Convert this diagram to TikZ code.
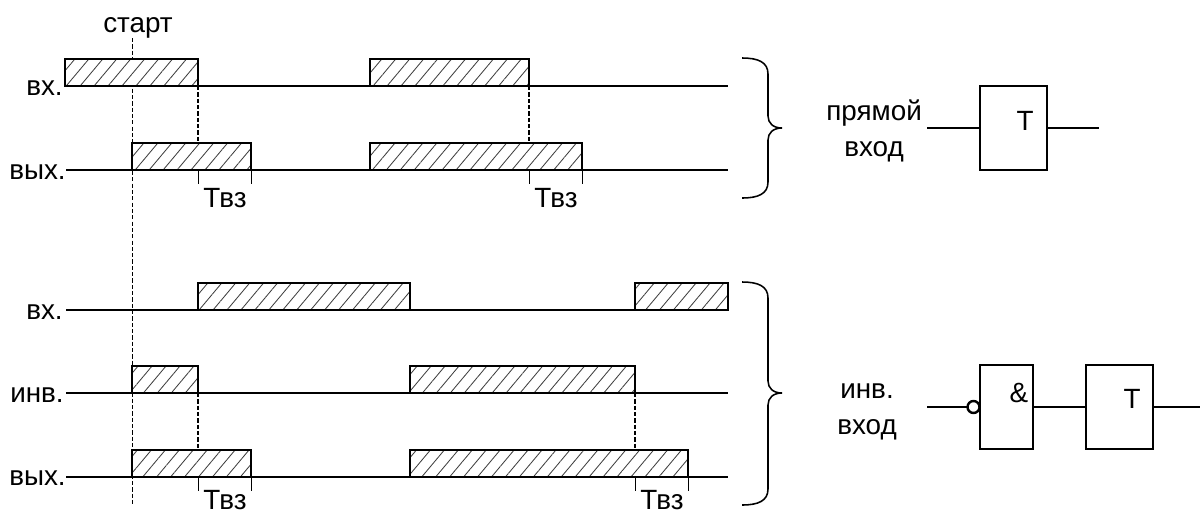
\documentclass[tikz,border=0pt]{standalone}
\usepackage{fontspec}
\setmainfont{Liberation Sans}
\usetikzlibrary{patterns.meta}

\begin{document}
\begin{tikzpicture}[
    x=0.025cm, y=-0.025cm,
    label/.style={inner sep=0pt, anchor=base, font=\fontsize{19.8}{24}\selectfont},
    rowlabel/.style={label, anchor=base east},
    timeline/.style={line width=1.5pt},
    sync/.style={line width=1pt, dash pattern=on 3pt off 1.5pt},
    tick/.style={line width=0.7pt},
    pulse/.style={rectangle, draw, line width=1.5pt, outer sep=0pt, inner sep=0pt, anchor=south west, minimum height=0.675cm, preaction={fill=white}, pattern={Lines[angle=50, distance=7.6pt, line width=0.6pt]}, pattern color=black!75},
    bracket/.style={line width=1.1pt},
    block/.style={rectangle, draw, line width=1.7pt, outer sep=0pt, minimum height=2.1cm},
    wire/.style={line width=1.8pt}
]
\useasboundingbox (0,0) rectangle (1200,514);

% Row labels
\node[rowlabel] (in1) at (63, 95) {вх.};
\node[rowlabel] (out1) at (66, 179) {вых.};
\node[rowlabel] (in2) at (63, 319) {вх.};
\node[rowlabel] (inv) at (64, 402) {инв.};
\node[rowlabel] (out2) at (66, 485) {вых.};

% Time lines
\coordinate (in1s) at (66, 86);
\coordinate (in1e) at (728, 86);
\coordinate (out1s) at (66, 170);
\coordinate (out1e) at (728, 170);
\coordinate (in2s) at (66, 310);
\coordinate (in2e) at (728, 310);
\coordinate (invs) at (66, 393);
\coordinate (inve) at (728, 393);
\coordinate (out2s) at (66, 477);
\coordinate (out2e) at (728, 477);
\draw[timeline] (in1s) -- (in1e);
\draw[timeline] (out1s) -- (out1e);
\draw[timeline] (in2s) -- (in2e);
\draw[timeline] (invs) -- (inve);
\draw[timeline] (out2s) -- (out2e);

% Start line
\node[label] (start) at (138, 32) {старт};
\coordinate (startt) at (132.5, 38);
\coordinate (startb) at (132.5, 504);
\draw[sync] (startt) -- (startb);

% Direct input
\node[pulse, minimum width=3.325cm] (p11) at (65, 86) {};
\node[pulse, minimum width=3.975cm] (p12) at (370, 86) {};
\node[pulse, minimum width=2.975cm] (p21) at (132, 170) {};
\node[pulse, minimum width=5.3cm] (p22) at (370, 170) {};

% Inverse input
\node[pulse, minimum width=5.3cm] (p31) at (198, 310) {};
\node[pulse, minimum width=2.325cm] (p32) at (635, 310) {};
\node[pulse, minimum width=1.65cm] (p41) at (132, 393) {};
\node[pulse, minimum width=5.625cm] (p42) at (410, 393) {};
\node[pulse, minimum width=2.975cm] (p51) at (132, 477) {};
\node[pulse, minimum width=6.95cm] (p52) at (410, 477) {};

% Dashed links
\draw[sync] (p11.south east) -- (p11.south east |- p21.north);
\draw[sync] (p12.south east) -- (p12.south east |- p22.north);
\draw[sync] (p41.south east) -- (p41.south east |- p51.north);
\draw[sync] (p42.south east) -- (p42.south east |- p52.north);

% Delay marks
\draw[tick] (p11.south east |- p21.south) -- ++(0, 14);
\draw[tick] (p21.south east) -- ++(0, 14);
\draw[tick] (p12.south east |- p22.south) -- ++(0, 14);
\draw[tick] (p22.south east) -- ++(0, 14);
\draw[tick] (p41.south east |- p51.south) -- ++(0, 14);
\draw[tick] (p51.south east) -- ++(0, 14);
\draw[tick] (p42.south east |- p52.south) -- ++(0, 14);
\draw[tick] (p52.south east) -- ++(0, 14);
\node[label] (tv1) at (225, 207) {Твз};
\node[label] (tv2) at (556, 207) {Твз};
\node[label] (tv3) at (225, 509) {Твз};
\node[label] (tv4) at (662, 509) {Твз};

% Brackets
\draw[bracket] (742, 58) .. controls (758, 58) and (768, 62) .. (768, 74) -- (768, 116)
    .. controls (768, 123) and (773, 128) .. (782, 128)
    .. controls (773, 128) and (768, 133) .. (768, 140) -- (768, 182)
    .. controls (768, 194) and (758, 198) .. (742, 198);
\draw[bracket] (742, 282) .. controls (758, 282) and (768, 286) .. (768, 298) -- (768, 381)
    .. controls (768, 388) and (773, 393) .. (782, 393)
    .. controls (773, 393) and (768, 398) .. (768, 405) -- (768, 489)
    .. controls (768, 501) and (758, 505) .. (742, 505);

% Direct input block
\node[label] (dir1) at (874, 120) {прямой};
\node[label] (dir2) at (874, 156) {вход};
\node[block, minimum width=1.675cm] (dirt) at (1013.5, 128) {};
\node[label] (dirtl) at (1025, 130) {Т};
\coordinate (dirin) at (927, 128);
\coordinate (dirout) at (1099, 128);
\draw[wire] (dirin) -- (dirt);
\draw[wire] (dirt) -- (dirout);

% Inverse input block
\node[label] (inv1) at (867, 398) {инв.};
\node[label] (inv2) at (867, 434) {вход};
\node[block, minimum width=1.325cm] (invand) at (1006.5, 407) {};
\node[block, minimum width=1.675cm] (invt) at (1119.5, 407) {};
\node[circle, draw, line width=1.7pt, fill=white, inner sep=0pt, outer sep=0pt, minimum size=0.3cm] (bubble) at (973.5, 407) {};
\node[label] (andl) at (1019, 402) {\&};
\node[label] (invtl) at (1132, 408) {Т};
\coordinate (invin) at (927, 407);
\coordinate (invout) at (1200, 407);
\draw[wire] (invin) -- (bubble);
\draw[wire] (invand) -- (invt);
\draw[wire] (invt) -- (invout);

\end{tikzpicture}
\end{document}
